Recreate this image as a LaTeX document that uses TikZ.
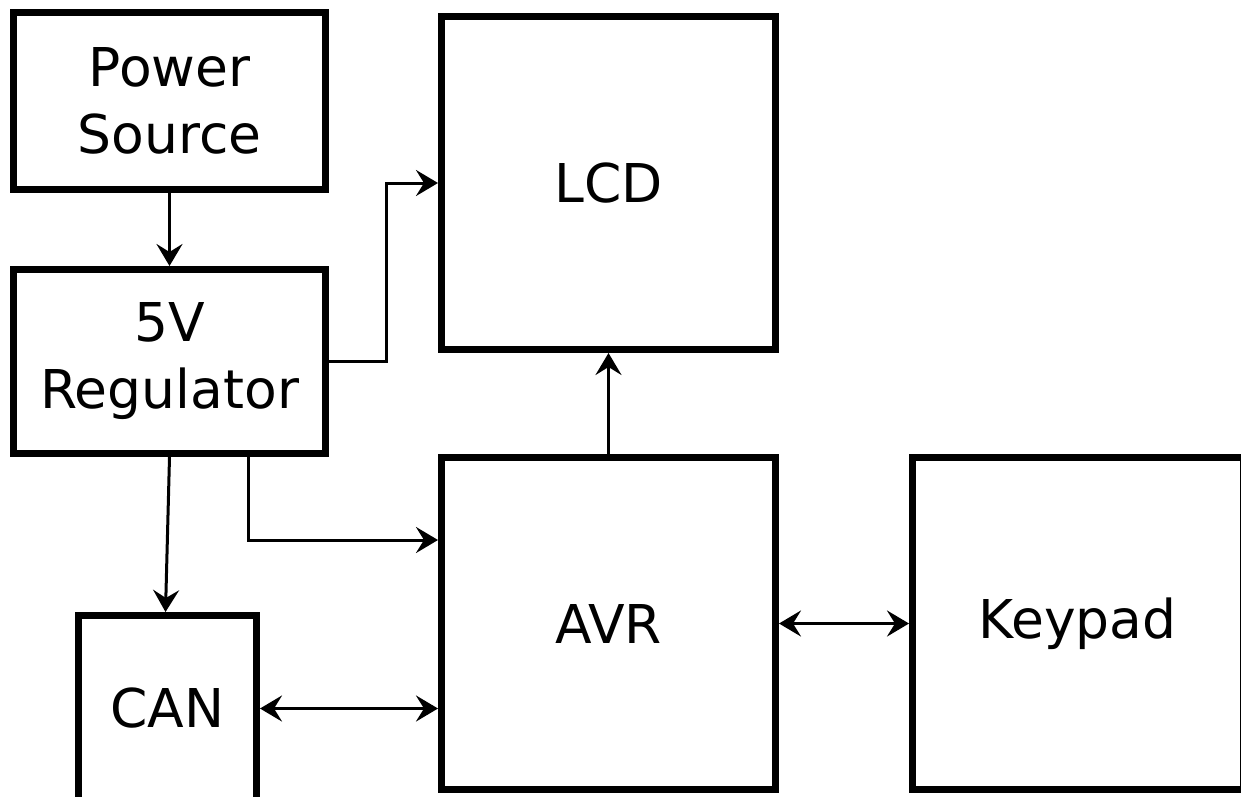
\documentclass[tikz,border=0pt]{standalone}
\usepackage{fontspec}
\setmainfont{DejaVu Sans}
\usetikzlibrary{arrows.meta}
\begin{document}
\begin{tikzpicture}[x=1pt,y=-1pt,
  blockbox/.style={draw, line width=7pt, inner sep=0pt, align=center,
    font=\fontsize{53.5}{67}\selectfont},
  conn/.style={line width=3pt, -{Stealth[length=22pt,width=26pt,inset=8pt]}},
  bconn/.style={line width=3pt, {Stealth[length=22pt,width=26pt,inset=8pt]}-{Stealth[length=22pt,width=26pt,inset=8pt]}}]
\useasboundingbox[fill=white] (0,0) rectangle (1241,796);
\node[blockbox, minimum width=312pt, minimum height=177pt] (power) at (169.5,101) {Power\\Source};
\node[blockbox, minimum width=312pt, minimum height=184pt] (reg) at (169.5,361.5) {5V\\Regulator};
\node[blockbox, minimum width=334pt, minimum height=333pt] (lcd) at (608.5,183) {LCD};
\node[blockbox, minimum width=334pt, minimum height=332pt] (avr) at (608.5,623.5) {AVR};
\node[blockbox, minimum width=330.5pt, minimum height=332pt] (keypad) at (1077.75,623.5) {Keypad};
\node[blockbox, minimum width=178pt, minimum height=186pt] (can) at (167.5,708.5) {CAN};
\draw[conn] (power.south) -- (reg.north);
\draw[conn] (reg.east) -- ++(57.5pt,0pt) |- (lcd.west);
\draw[conn] (reg.south) -- ([xshift=-2pt]can.north);
\draw[conn] ([xshift=78.5pt]reg.south) |- ([yshift=83.5pt]avr.west);
\draw[conn] (avr.north) -- (lcd.south);
\draw[bconn] (can.east) -- (can.east -| avr.west);
\draw[bconn] (avr.east) -- (keypad.west);
\end{tikzpicture}
\end{document}
